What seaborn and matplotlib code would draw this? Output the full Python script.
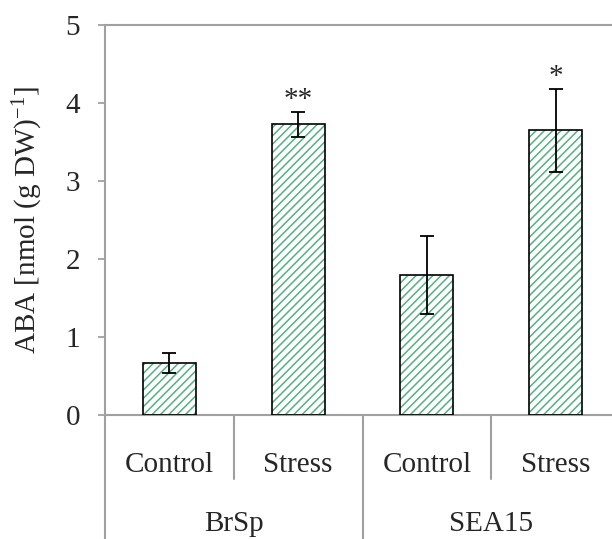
import matplotlib
matplotlib.use('Agg')
import matplotlib.pyplot as plt
from matplotlib.patches import Rectangle
import seaborn as sns
import pandas as pd

# ---- data ----
strains = ['BrSp', 'BrSp', 'SEA15', 'SEA15']
treatments = ['Control', 'Stress', 'Control', 'Stress']
aba_mean = [0.67, 3.73, 1.79, 3.65]
aba_err = [0.13, 0.16, 0.50, 0.53]
signif = ['', '**', '', '*']
y_ticks = [0, 1, 2, 3, 4, 5]
group_names = ['BrSp', 'SEA15']

sns.set_style('white')
plt.rcParams['font.family'] = ['Liberation Serif', 'DejaVu Serif']
plt.rcParams['mathtext.default'] = 'regular'
plt.rcParams['hatch.linewidth'] = 1.1

df = pd.DataFrame({'strain': strains, 'treatment': treatments,
                   'aba': aba_mean, 'err': aba_err})
df['key'] = df['strain'] + ' ' + df['treatment']

W, H = 612, 539
fig = plt.figure(figsize=(W / 100, H / 100), dpi=100)
ax = fig.add_axes([105 / W, 1 - 415 / H, 515 / W, 390 / H])

green = '#55b084'
gray = '#a0a0a0'
fs = 21

sns.barplot(data=df, x='key', y='aba', order=list(df['key']), color='white',
            edgecolor=green, hatch='////', linewidth=0, width=0.41,
            errorbar=None, saturation=1, ax=ax)

centers = []
for p in list(ax.patches):
    outline = Rectangle((p.get_x(), p.get_y()), p.get_width(), p.get_height(),
                        fill=False, edgecolor='black', linewidth=1.2, zorder=3)
    ax.add_patch(outline)
    centers.append(p.get_x() + p.get_width() / 2)

ax.errorbar(centers, df['aba'], yerr=df['err'], fmt='none', ecolor='black',
            elinewidth=1.3, capsize=5, capthick=1.3, zorder=4)

for cx, m, e, s in zip(centers, df['aba'], df['err'], signif):
    if s:
        ax.text(cx, m + e + 0.06, s, ha='center', va='baseline', fontsize=fs)

ax.set_xlim(-0.5, 3.5)
ax.set_ylim(0, 5)
ax.set_yticks(y_ticks)
ax.set_xticks([])
ax.set_xlabel('')
ax.set_ylabel('')
ax.tick_params(axis='y', left=True, direction='out', length=5, width=1.3,
               color=gray, pad=13, labelsize=fs)

for side in ['left', 'bottom', 'top']:
    ax.spines[side].set_color(gray)
    ax.spines[side].set_linewidth(1.5)
ax.spines['right'].set_visible(False)

xt = ax.get_xaxis_transform()
# category separators
for xs, ybot in [(-0.5, -0.33), (0.5, -0.164), (1.5, -0.33), (2.5, -0.164), (3.5, -0.33)]:
    ax.plot([xs, xs], [0, ybot], color=gray, lw=1.5, transform=xt, clip_on=False)

for i, t in enumerate(treatments):
    ax.text(i, -0.145, t, ha='center', va='baseline', fontsize=fs, transform=xt)
for g, name in enumerate(group_names):
    ax.text(2 * g + 0.5, -0.297, name, ha='center', va='baseline', fontsize=fs,
            transform=xt)

fig.text(28 / W, 1 - 220 / H, 'ABA [nmol (g DW)$^{-1}$]', rotation=90,
         ha='center', va='center', fontsize=fs)

fig.savefig('out.png', dpi=100)
